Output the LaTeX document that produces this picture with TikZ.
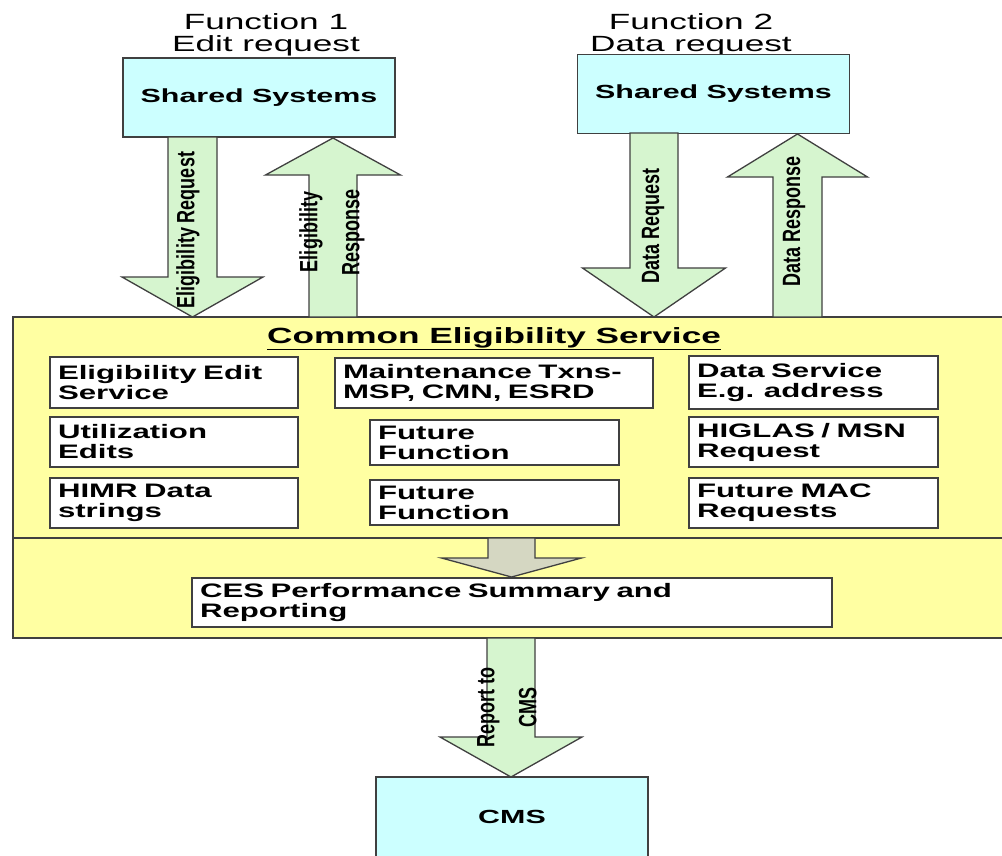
\documentclass[tikz,border=0pt]{standalone}
\usepackage{fontspec}
\setmainfont{Liberation Sans}
\newfontfamily\widefont[FakeStretch=1.6]{Liberation Sans}
\newfontfamily\narrowfont[FakeStretch=0.72]{Liberation Sans}
\definecolor{cyellow}{HTML}{FFFFA2}
\definecolor{cgreen}{HTML}{D6F5CF}
\definecolor{cblue}{HTML}{CCFFFF}
\definecolor{cgray}{HTML}{D5D7C2}
\definecolor{cline}{HTML}{404040}
\tikzset{
  outl/.style={draw=cline, line width=1.3pt},
  bluebox/.style={outl, fill=cblue, minimum width=272pt, minimum height=79pt, inner sep=0pt,
    font=\widefont\bfseries\fontsize{19}{20}\selectfont},
  inbox/.style={outl, fill=white, align=left, inner xsep=8pt, inner ysep=0pt,
    font=\widefont\bfseries\fontsize{19.5}{20}\selectfont},
  vlabel/.style={rotate=90, align=center, inner sep=0pt,
    font=\narrowfont\bfseries\fontsize{25}{42}\selectfont},
  hdr/.style={align=center, inner sep=0pt, font=\widefont\fontsize{22}{22}\selectfont},
}
\newcommand{\blkarrow}[7]{%
  \draw[outl, fill=#7] (#1-#5,#2) -- (#1-#5,#3) -- (#1-#6,#3) -- (#1,#4)
    -- (#1+#6,#3) -- (#1+#5,#3) -- (#1+#5,#2) -- cycle;}
\begin{document}
\begin{tikzpicture}[x=1pt, y=-1pt]
\useasboundingbox (0,0) rectangle (1002,855);
\fill[white] (0,0) rectangle (1002,855);
\clip (0,0) rectangle (1002,855);

% headers
\node[hdr, anchor=north] (f1) at (266,13) {Function 1\\Edit request};
\node[hdr, anchor=north] (f2) at (691,13) {Function 2\\Data request};

% shared systems
\node[bluebox] (ss1) at (259,97.5) {Shared Systems};
\node[bluebox] (ss2) at (713.5,94) {Shared Systems};

% main box
\node[outl, fill=cyellow, minimum width=1000pt, minimum height=321pt, inner sep=0pt] (main) at (513,477.5) {};
\coordinate (divl) at (13,538);
\coordinate (divr) at (1013,538);
\draw[outl] (divl) -- (divr);

% arrows between shared systems and main box
\blkarrow{192.5}{137}{277}{317}{24.5}{70.5}{cgreen}
\blkarrow{333}{317}{175}{138}{24}{67.5}{cgreen}
\blkarrow{654}{133}{268}{317}{24}{71.5}{cgreen}
\blkarrow{797.5}{317}{177}{134}{24.5}{70}{cgreen}

\node[vlabel] (lab1) at (188,230) {Eligibility Request};
\node[vlabel] (lab2) at (332,232) {Eligibility\\Response};
\node[vlabel] (lab3) at (653,226) {Data Request};
\node[vlabel] (lab4) at (794,221) {Data Response};

% title
\node[inner sep=0pt, anchor=base, font=\widefont\bfseries\fontsize{22}{22}\selectfont] (title) at (494,343) {\underline{Common Eligibility Service}};

% inner boxes
\node[inbox, text width=232pt, minimum height=51pt] (ees) at (174,382.5) {Eligibility Edit\\Service};
\node[inbox, text width=302pt, minimum height=50pt] (mt) at (494,383) {Maintenance Txns-\\MSP, CMN, ESRD};
\node[inbox, text width=233pt, minimum height=53pt] (ds) at (813.5,382.5) {Data Service\\E.g. address};
\node[inbox, text width=232pt, minimum height=50pt] (ue) at (174,442) {Utilization\\Edits};
\node[inbox, text width=233pt, minimum height=45pt] (ff1) at (494.5,442.5) {Future\\Function};
\node[inbox, text width=233pt, minimum height=50pt] (hig) at (813.5,442) {HIGLAS / MSN\\Request};
\node[inbox, text width=232pt, minimum height=50pt] (himr) at (174,503) {HIMR Data\\strings};
\node[inbox, text width=233pt, minimum height=45pt] (ff2) at (494.5,502.5) {Future\\Function};
\node[inbox, text width=233pt, minimum height=50pt] (mac) at (813.5,503) {Future MAC\\Requests};

% gray arrow
\blkarrow{511.5}{538}{558}{577}{23.5}{70}{cgray}

\node[inbox, text width=624pt, minimum height=49pt] (ces) at (512,602.5) {CES Performance Summary and\\Reporting};

% report arrow and CMS
\blkarrow{511}{638}{737}{777}{24}{71}{cgreen}
\node[outl, fill=cblue, minimum width=272pt, minimum height=95pt, inner sep=0pt] (cms) at (512,824.5) {};
\node[inner sep=0pt, font=\widefont\bfseries\fontsize{19}{20}\selectfont] (cmst) at (512,817) {CMS};
\node[vlabel] (lab5) at (507,707) {Report to\\CMS};
\end{tikzpicture}
\end{document}
